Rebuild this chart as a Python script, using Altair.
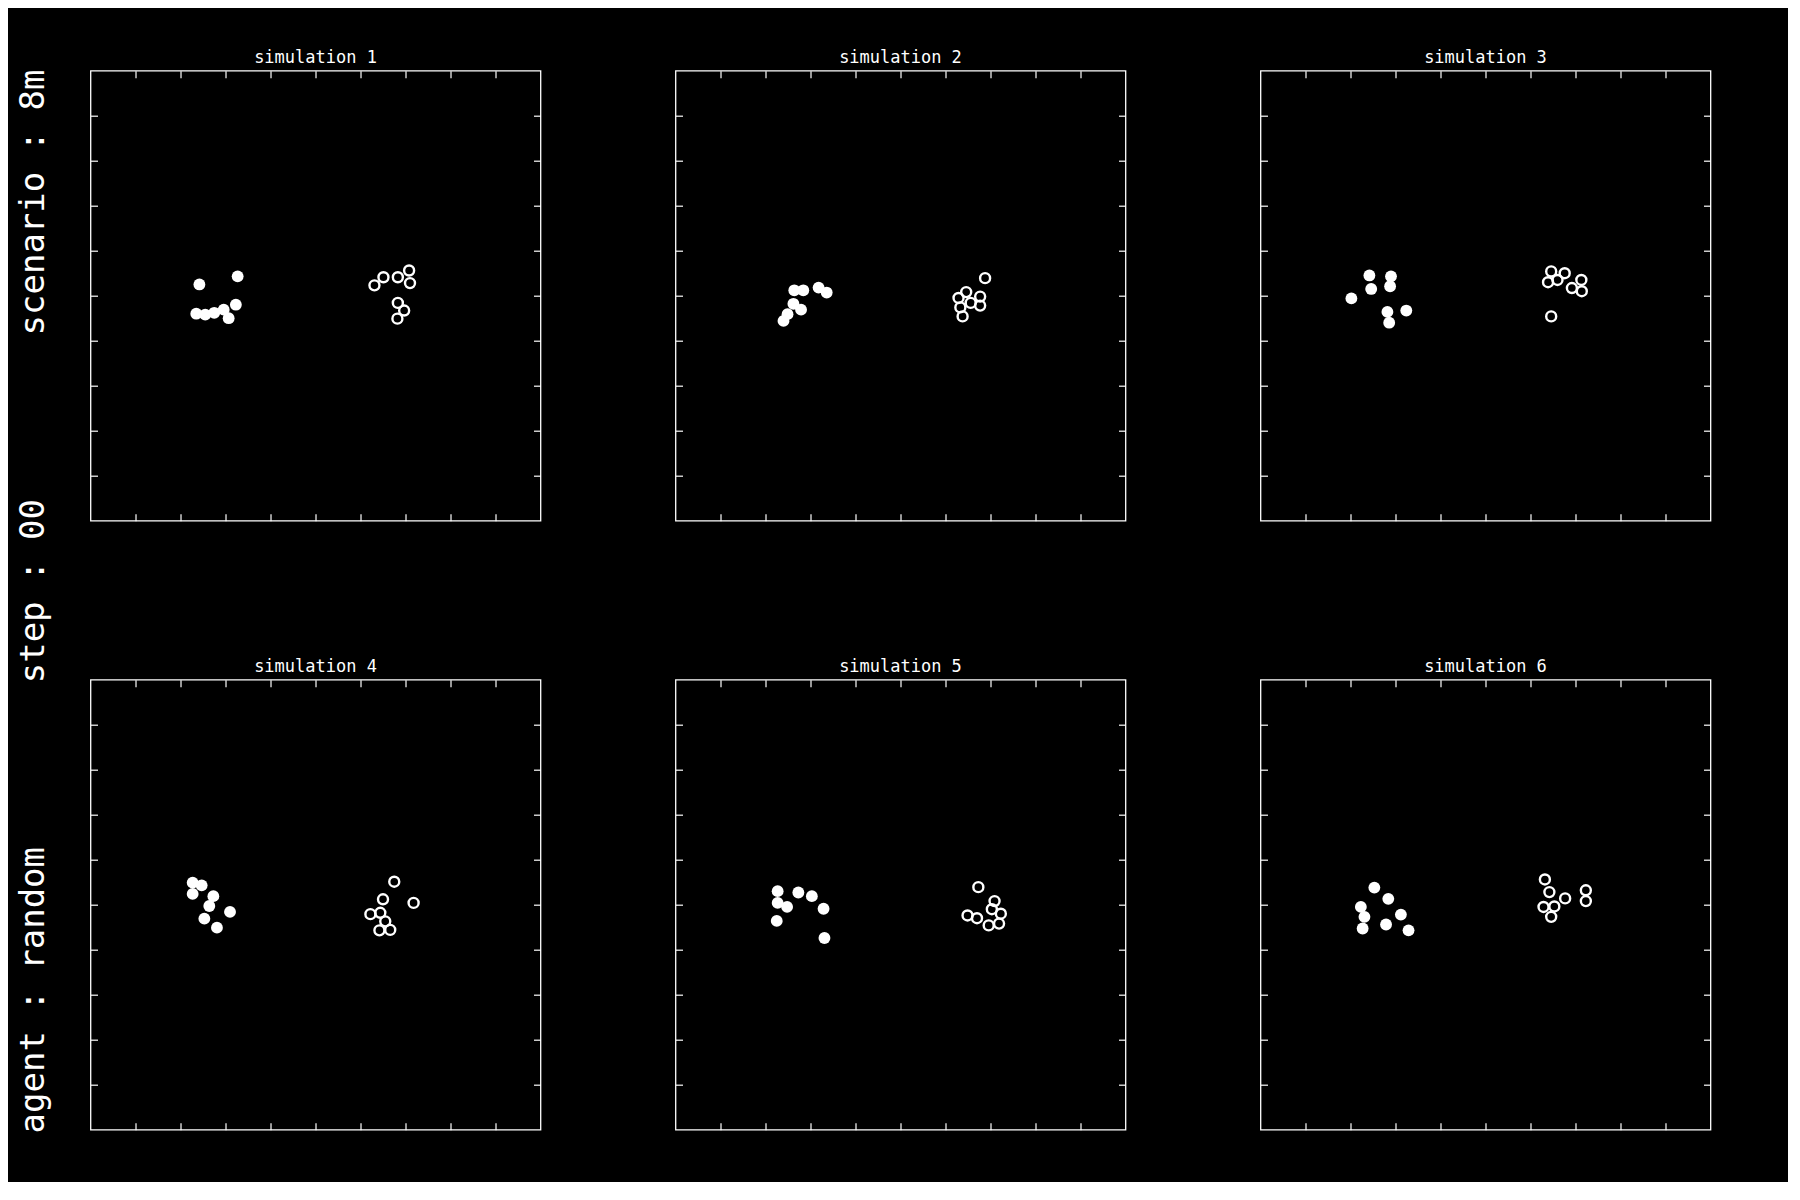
import altair as alt
import pandas as pd

# ---- data (map coordinates, 0..10 on both axes) ----
sims = [1, 2, 3, 4, 5, 6]

ally_x = [
    [2.42, 3.27, 2.35, 2.55, 2.75, 2.96, 3.23, 3.07],
    [2.40, 2.49, 2.62, 2.79, 2.64, 2.84, 3.18, 3.36],
    [2.42, 2.90, 2.46, 2.88, 2.02, 2.82, 3.24, 2.86],
    [2.27, 2.47, 2.27, 2.73, 2.64, 3.10, 2.53, 2.81],
    [2.27, 2.73, 3.03, 2.27, 2.48, 3.29, 2.25, 3.31],
    [2.53, 2.84, 2.23, 2.31, 3.12, 2.79, 2.27, 3.29],
]
ally_y = [
    [5.25, 5.43, 4.60, 4.58, 4.62, 4.69, 4.80, 4.50],
    [4.44, 4.59, 4.82, 4.69, 5.12, 5.12, 5.18, 5.07],
    [5.45, 5.43, 5.15, 5.21, 4.94, 4.64, 4.67, 4.40],
    [5.49, 5.43, 5.24, 5.19, 4.97, 4.84, 4.69, 4.49],
    [5.30, 5.27, 5.19, 5.04, 4.95, 4.91, 4.64, 4.26],
    [5.38, 5.13, 4.95, 4.73, 4.78, 4.56, 4.47, 4.43],
]
enemy_x = [
    [6.31, 6.51, 6.83, 7.08, 7.10, 6.83, 6.97, 6.82],
    [6.88, 6.46, 6.29, 6.56, 6.77, 6.77, 6.33, 6.38],
    [6.46, 6.76, 6.39, 6.60, 7.13, 6.92, 7.14, 6.46],
    [6.75, 6.50, 7.18, 6.22, 6.44, 6.55, 6.42, 6.66],
    [6.73, 7.09, 7.03, 7.23, 6.49, 6.70, 7.19, 6.96],
    [6.32, 6.42, 6.77, 7.23, 7.23, 6.29, 6.53, 6.46],
]
enemy_y = [
    [5.23, 5.41, 5.41, 5.56, 5.28, 4.84, 4.67, 4.49],
    [5.39, 5.08, 4.95, 4.84, 4.98, 4.78, 4.74, 4.54],
    [5.54, 5.50, 5.30, 5.35, 5.35, 5.17, 5.10, 4.54],
    [5.51, 5.12, 5.04, 4.79, 4.82, 4.63, 4.43, 4.44],
    [5.39, 5.08, 4.90, 4.80, 4.76, 4.70, 4.58, 4.54],
    [5.56, 5.28, 5.14, 5.32, 5.08, 4.95, 4.96, 4.73],
]
tick_values = [1, 2, 3, 4, 5, 6, 7, 8, 9]
axis_domain = [0, 10]

side_label = ("agent : random" + "\u00a0" * 8 + "step : 00" + "\u00a0" * 8 + "scenario : 8m")

FONT = "DejaVu Sans Mono"
W = 450


def axis(orient):
    return alt.Axis(
        orient=orient, values=tick_values, labels=False, domain=False, grid=False,
        ticks=True, tickSize=7, tickColor="white", tickWidth=1.2, offset=-7,
        minExtent=0, maxExtent=0, title=None,
    )


panels = []
for i, s in enumerate(sims):
    a = pd.DataFrame({"x": ally_x[i], "y": ally_y[i]})
    e = pd.DataFrame({"x": enemy_x[i], "y": enemy_y[i]})
    sc = alt.Scale(domain=axis_domain, nice=False, zero=False)
    filled = alt.Chart(a).mark_circle(color="white", opacity=1, size=140).encode(
        x=alt.X("x:Q", scale=sc, axis=axis("bottom")),
        y=alt.Y("y:Q", scale=sc, axis=axis("left")),
    )
    hollow = alt.Chart(e).mark_point(
        shape="circle", filled=False, stroke="white", strokeWidth=2.4, opacity=1, size=100
    ).encode(
        x=alt.X("x:Q", scale=sc, axis=axis("top")),
        y=alt.Y("y:Q", scale=sc, axis=axis("right")),
    )
    p = alt.layer(filled, hollow).resolve_axis(x="independent", y="independent").properties(
        width=W, height=W,
        title=alt.TitleParams(
            text=f"simulation {s}", font=FONT, fontSize=17, fontWeight="normal",
            color="white", baseline="alphabetic", offset=-9.5, anchor="middle",
        ),
    )
    panels.append(p)

chart = alt.concat(*panels, columns=3, spacing={"row": 134, "column": 131}).properties(
    title=alt.TitleParams(
        text=side_label, orient="left", anchor="middle", font=FONT, fontSize=34,
        fontWeight="normal", color="white", offset=38, dx=-12,
    ),
    padding={"left": 8.5, "top": 39.7, "right": 75, "bottom": 48},
    background="black",
).configure_view(
    stroke="white", strokeWidth=1.3, fill="black"
)

chart.save("out.html", embed_options={"renderer": "svg", "actions": False})
